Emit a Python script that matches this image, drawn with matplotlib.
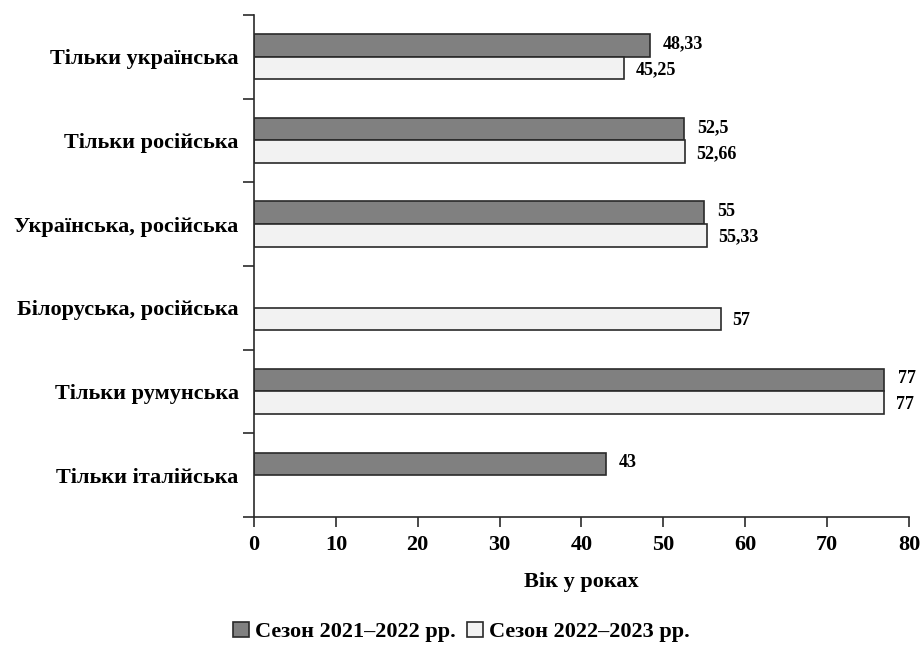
import numpy as np
import matplotlib.pyplot as plt
from matplotlib.patches import Patch
from matplotlib.ticker import FixedLocator, NullFormatter

plt.rcParams['font.family'] = ['Liberation Serif', 'DejaVu Serif']
plt.rcParams['font.weight'] = 'bold'

categories = ['Тільки українська', 'Тільки російська', 'Українська, російська',
              'Білоруська, російська', 'Тільки румунська', 'Тільки італійська']
season_2122 = [48.33, 52.5, 55, None, 77, 43]
season_2223 = [45.25, 52.66, 55.33, 57, 77, None]
labels_2122 = ['48,33', '52,5', '55', None, '77', '43']
labels_2223 = ['45,25', '52,66', '55,33', '57', '77', None]
series_names = ['Сезон 2021–2022 рр.', 'Сезон 2022–2023 рр.']
x_ticks = [0, 10, 20, 30, 40, 50, 60, 70, 80]

dark, light = '#808080', '#f2f2f2'
edge = '#2a2a2a'

fig = plt.figure(figsize=(9.23, 6.53), dpi=100)
ax = fig.add_axes([0.2752, 0.2083, 0.7096, 0.769])

y = np.arange(len(categories))
h = 0.27
for i in y:
    v1, v2 = season_2122[i], season_2223[i]
    if v1 is not None:
        ax.barh(i - h / 2, v1, height=h, color=dark, edgecolor=edge, linewidth=1.2)
        ax.text(v1 + 1.6, i - h / 2 - 0.02, labels_2122[i], va='center', ha='left',
                fontsize=13, fontweight='bold')
    if v2 is not None:
        ax.barh(i + h / 2, v2, height=h, color=light, edgecolor=edge, linewidth=1.2)
        ax.text(v2 + 1.4, i + h / 2 + 0.02, labels_2223[i], va='center', ha='left',
                fontsize=13, fontweight='bold')

ax.set_ylim(len(categories) - 0.5, -0.5)
ax.set_xlim(0, 80)
ax.set_xticks(x_ticks)
ax.set_xticklabels([str(t) for t in x_ticks], fontsize=16, fontweight='bold')
ax.set_yticks(y)
ax.set_yticklabels(categories, fontsize=16, fontweight='bold')
ax.tick_params(axis='y', which='major', length=0, pad=11)
ax.yaxis.set_minor_locator(FixedLocator(np.arange(-0.5, len(categories), 1.0)))
ax.yaxis.set_minor_formatter(NullFormatter())
ax.tick_params(axis='y', which='minor', length=8, width=1.2, color=edge)
ax.tick_params(axis='x', length=7, width=1.2, color=edge, pad=6)

for s in ['top', 'right']:
    ax.spines[s].set_visible(False)
for s in ['left', 'bottom']:
    ax.spines[s].set_color(edge)
    ax.spines[s].set_linewidth(1.2)

ax.set_xlabel('Вік у роках', fontsize=16, fontweight='bold', labelpad=12)

handles = [Patch(facecolor=dark, edgecolor=edge, linewidth=1.2),
           Patch(facecolor=light, edgecolor=edge, linewidth=1.2)]
fig.legend(handles, series_names, loc='center', bbox_to_anchor=(0.5, 0.032),
           ncol=2, frameon=False, fontsize=16, handlelength=0.7, handleheight=0.7,
           handletextpad=0.3, columnspacing=0.5)

fig.savefig('out.png', dpi=100)
